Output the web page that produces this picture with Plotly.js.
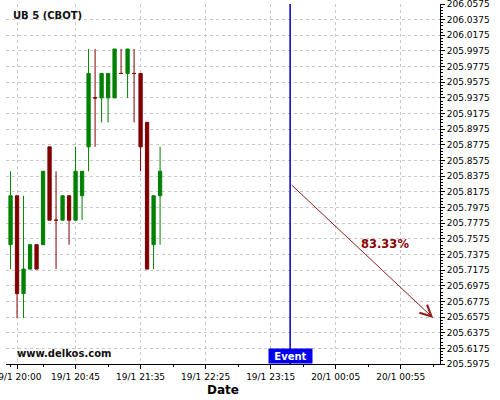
<!DOCTYPE html>
<html>
<head>
<meta charset="utf-8">
<script src="https://cdn.plot.ly/plotly-3.0.1.min.js"></script>
<style>html,body{margin:0;padding:0;background:#fff;}#chart{width:500px;height:400px;}</style>
</head>
<body>
<div id="chart"></div>
<script>
// ---- data ----
const candleTimes = [
  '2025-01-19 19:55','2025-01-19 20:00','2025-01-19 20:05','2025-01-19 20:10',
  '2025-01-19 20:15','2025-01-19 20:20','2025-01-19 20:25','2025-01-19 20:30',
  '2025-01-19 20:35','2025-01-19 20:40','2025-01-19 20:45','2025-01-19 20:50',
  '2025-01-19 20:55','2025-01-19 21:00','2025-01-19 21:05','2025-01-19 21:10',
  '2025-01-19 21:15','2025-01-19 21:20','2025-01-19 21:25','2025-01-19 21:30',
  '2025-01-19 21:35','2025-01-19 21:40','2025-01-19 21:45','2025-01-19 21:50'
];
const openVals  = [205.75,205.8125,205.6875,205.71875,205.75,205.75,205.875,205.78125,
                   205.78125,205.8125,205.78125,205.8125,205.875,205.9375,205.9375,205.9375,
                   205.9375,205.96875,205.96875,205.96875,205.96875,205.90625,205.75,205.8125];
const highVals  = [205.84375,205.8125,205.8125,205.75,205.75,205.84375,205.875,205.84375,
                   205.8125,205.8125,205.875,205.84375,206.0,206.0,205.96875,205.96875,
                   206.0,206.0,206.0,206.0,205.96875,205.90625,205.8125,205.875];
const lowVals   = [205.71875,205.65625,205.65625,205.71875,205.71875,205.75,205.78125,205.71875,
                   205.78125,205.75,205.78125,205.78125,205.84375,205.875,205.90625,205.90625,
                   205.9375,205.96875,205.9375,205.90625,205.84375,205.71875,205.71875,205.75];
const closeVals = [205.8125,205.6875,205.71875,205.75,205.71875,205.84375,205.78125,205.78125,
                   205.8125,205.78125,205.84375,205.84375,205.96875,205.9375,205.96875,205.96875,
                   206.0,205.96875,206.0,205.96875,205.875,205.71875,205.8125,205.84375];

const xTickVals = ['2025-01-19 20:00','2025-01-19 20:45','2025-01-19 21:35','2025-01-19 22:25',
                   '2025-01-19 23:15','2025-01-20 00:05','2025-01-20 00:55'];
const xTickText = ['19/1 20:00','19/1 20:45','19/1 21:35','19/1 22:25','19/1 23:15','20/1 00:05','20/1 00:55'];
const yTickVals = [205.5975,205.6175,205.6375,205.6575,205.6775,205.6975,205.7175,205.7375,
                   205.7575,205.7775,205.7975,205.8175,205.8375,205.8575,205.8775,205.8975,
                   205.9175,205.9375,205.9575,205.9775,205.9975,206.0175,206.0375,206.0575];

const chartTitle = 'UB 5 (CBOT)';
const watermark = 'www.delkos.com';
const eventTime = '2025-01-19 23:30';
const eventLabel = 'Event';
const arrowStart = {x: '2025-01-19 23:30', y: 205.828};
const arrowEnd   = {x: '2025-01-20 01:20', y: 205.65625};
const pctLabel = '83.33%';
const pctPos = {x: '2025-01-20 00:43:20', y: 205.7503};

// ---- styles ----
const GREEN = '#008000', RED = '#800000', BLUE = '#0000EE', LINEBLUE = '#0000C0', ARROW = '#931c1c';
const GRID = '#c8c8c8';
const FONT = 'DejaVu Sans';

const trace = {
  type: 'candlestick',
  x: candleTimes, open: openVals, high: highVals, low: lowVals, close: closeVals,
  increasing: {line: {color: GREEN, width: 1}, fillcolor: GREEN},
  decreasing: {line: {color: RED, width: 1}, fillcolor: RED},
  whiskerwidth: 0,
  hoverinfo: 'skip'
};

const layout = {
  width: 500, height: 400,
  margin: {l: 6, r: 60, t: 4, b: 36},
  paper_bgcolor: '#fff', plot_bgcolor: '#fff',
  showlegend: false,
  boxgap: 0.28,
  font: {family: FONT, color: '#000', size: 9},
  xaxis: {
    type: 'date',
    range: ['2025-01-19 19:51:30', '2025-01-20 01:25:15'],
    tickmode: 'array', tickvals: xTickVals, ticktext: xTickText,
    ticks: 'outside', ticklen: 4, tickcolor: '#000', tickwidth: 1,
    ticklabeloverflow: 'allow',
    showline: true, linecolor: '#000', linewidth: 1,
    showgrid: true, gridcolor: GRID, griddash: '3px,3px', gridwidth: 1,
    zeroline: false,
    tickfont: {family: FONT, size: 9, color: '#000'},
    title: {text: '<b>Date</b>', font: {family: FONT, size: 12, color: '#000'}, standoff: 4},
    rangeslider: {visible: false},
    minor: {ticks: 'outside', ticklen: 2, tickcolor: '#000', tick0: '2025-01-19 20:20', dtick: 1500000, showgrid: false},
    automargin: false, fixedrange: true
  },
  yaxis: {
    side: 'right',
    range: [205.5975, 206.0575],
    tickmode: 'array', tickvals: yTickVals, ticktext: yTickVals.map(v => v.toFixed(4)),
    ticks: 'outside', ticklen: 4, tickcolor: '#000', tickwidth: 1,
    ticklabeloverflow: 'allow',
    showline: true, linecolor: '#000', linewidth: 1,
    showgrid: true, gridcolor: GRID, griddash: '3px,3px', gridwidth: 1,
    zeroline: false,
    tickfont: {family: FONT, size: 9, color: '#000'},
    minor: {ticks: 'outside', ticklen: 2, tickcolor: '#000', tick0: 205.5975, dtick: 0.004, showgrid: false},
    automargin: false, fixedrange: true
  },
  shapes: [{
    type: 'line', xref: 'x', yref: 'paper', x0: eventTime, x1: eventTime, y0: 0, y1: 1,
    line: {color: LINEBLUE, width: 1.5}
  }],
  annotations: [
    {xref: 'paper', yref: 'paper', x: 0.011, y: 0.968, xanchor: 'left', yanchor: 'middle',
     text: '<b>' + chartTitle + '</b>', showarrow: false, font: {family: FONT, size: 10, color: '#111'}},
    {xref: 'paper', yref: 'paper', x: 0.0207, y: 0.028, xanchor: 'left', yanchor: 'middle',
     text: '<b>' + watermark + '</b>', showarrow: false, font: {family: FONT, size: 10, color: '#111'}},
    {xref: 'x', yref: 'paper', x: eventTime, y: 0, xanchor: 'center', yanchor: 'bottom',
     text: '<b>' + eventLabel + '</b>', showarrow: false, bgcolor: BLUE, borderpad: 1,
     width: 41, height: 12, font: {family: FONT, size: 10, color: '#fff'}},
    {xref: 'x', yref: 'y', axref: 'x', ayref: 'y', x: arrowEnd.x, y: arrowEnd.y,
     ax: arrowStart.x, ay: arrowStart.y, showarrow: true, arrowhead: 5, arrowsize: 2.2,
     arrowwidth: 1, arrowcolor: ARROW, text: ''},
    {xref: 'x', yref: 'y', x: pctPos.x, y: pctPos.y, xanchor: 'center', yanchor: 'middle',
     text: '<b>' + pctLabel + '</b>', showarrow: false, font: {family: FONT, size: 11.5, color: '#8B0000'}}
  ]
};

Plotly.newPlot('chart', [trace], layout, {staticPlot: true, displayModeBar: false});
</script>
</body>
</html>
